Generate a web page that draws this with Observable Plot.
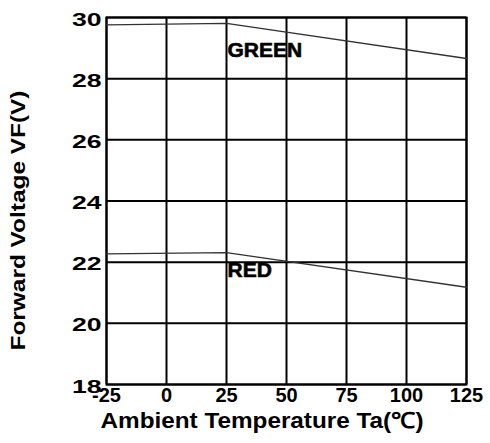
<!DOCTYPE html>
<html>
<head>
<meta charset="utf-8">
<script src="https://cdn.jsdelivr.net/npm/d3@7"></script>
<script src="https://cdn.jsdelivr.net/npm/@observablehq/plot@0.6"></script>
<style>
  html, body { margin: 0; padding: 0; background: #fff; }
</style>
</head>
<body>
<div id="chart"></div>
<script>
const xTicks = [-25, 0, 25, 50, 75, 100, 125];
const yTicks = [18, 20, 22, 24, 26, 28, 30];
const temps = [-25, 25, 125];
const greenVF = [29.76, 29.81, 28.66];
const redVF = [22.27, 22.31, 21.18];
const seriesNames = ["GREEN", "RED"];
const labelX = [25, 25];
const labelY = [28.92, 21.72];
const xTitle = "Ambient Temperature Ta(℃)";
const yTitle = "Forward Voltage VF(V)";

const green = temps.map((t, i) => ({t, v: greenVF[i]}));
const red = temps.map((t, i) => ({t, v: redVF[i]}));
const labels = seriesNames.map((n, i) => ({n, x: labelX[i], y: labelY[i]}));

const chart = Plot.plot({
  width: 490,
  height: 443,
  marginLeft: 106,
  marginRight: 24,
  marginTop: 17,
  marginBottom: 59,
  style: {fontFamily: "'Liberation Sans', Arial, sans-serif", background: "#fff", color: "#000"},
  x: {domain: [-25, 125]},
  y: {domain: [18, 30]},
  marks: [
    Plot.gridX(xTicks, {stroke: "#000", strokeOpacity: 1, strokeWidth: 2}),
    Plot.gridY(yTicks, {stroke: "#000", strokeOpacity: 1, strokeWidth: 2}),
    Plot.frame({stroke: "#000", strokeWidth: 2}),
    Plot.axisX({ticks: xTicks, tickSize: 0, tickPadding: 3, fontSize: 20, fontWeight: "bold", label: null, letterSpacing: -1.5, tickFormat: d => String(d)}),
    Plot.axisY({ticks: yTicks, tickSize: 0, tickPadding: 5, fontSize: 19, fontWeight: "bold", label: null, dy: 2}),
    Plot.line(green, {x: "t", y: "v", stroke: "#333", strokeWidth: 1.3}),
    Plot.line(red, {x: "t", y: "v", stroke: "#333", strokeWidth: 1.3}),
    Plot.text(labels, {x: "x", y: "y", text: "n", textAnchor: "start", dx: 1, fontSize: 21, fontWeight: "bold", letterSpacing: -1.3, fill: "#000", stroke: "#000", strokeWidth: 0.6}),
    Plot.text([xTitle], {frameAnchor: "bottom-left", textAnchor: "start", dx: -6, dy: 43, fontSize: 22, fontWeight: "bold", fill: "#000", className: "xtitle"}),
    Plot.text([yTitle], {frameAnchor: "bottom-left", textAnchor: "start", rotate: -90, dx: -82, dy: -34, fontSize: 20, fontWeight: "bold", fill: "#000", className: "ytitle"})
  ]
});
document.getElementById("chart").appendChild(chart);

// stretch y tick labels horizontally (wide heavy digits in the reference)
d3.select(chart).selectAll('g[aria-label="y-axis tick label"] text').each(function() {
  const w = this.getComputedTextLength();
  this.setAttribute("textLength", w * 1.4);
  this.setAttribute("lengthAdjust", "spacingAndGlyphs");
});
d3.select(chart).selectAll('.xtitle text').each(function() {
  this.setAttribute("textLength", 323);
  this.setAttribute("lengthAdjust", "spacingAndGlyphs");
});
d3.select(chart).selectAll('.ytitle text').each(function() {
  this.setAttribute("textLength", 260);
  this.setAttribute("lengthAdjust", "spacingAndGlyphs");
});
</script>
</body>
</html>
